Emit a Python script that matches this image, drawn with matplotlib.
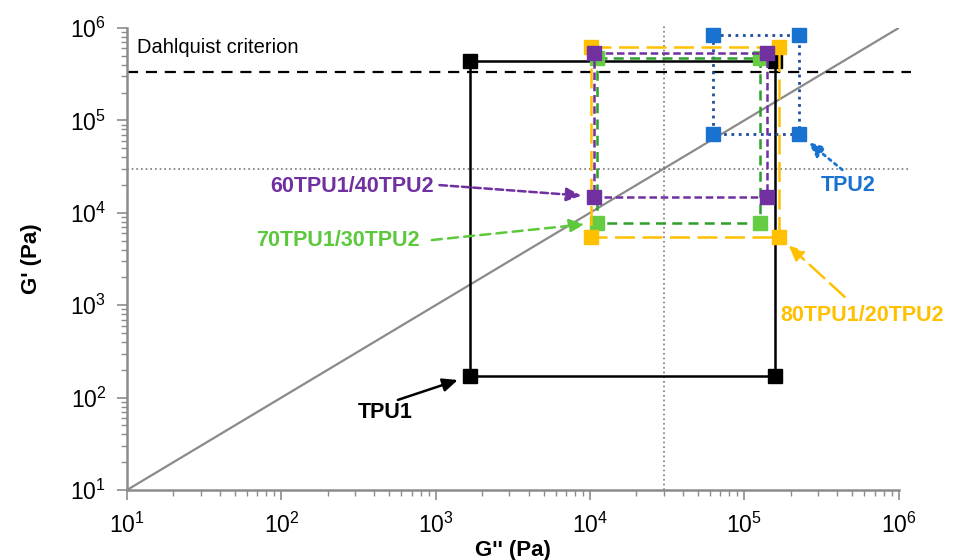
import matplotlib
matplotlib.use("Agg")
import matplotlib.pyplot as plt
import numpy as np

# viscoelastic window corners: G'' low/high, G' low/high (Pa)
samples = ["TPU1", "TPU2", "70TPU1/30TPU2", "80TPU1/20TPU2", "60TPU1/40TPU2"]
gpp_low = [1.66e3, 6.24e4, 1.11e4, 1.02e4, 1.06e4]
gpp_high = [1.57e5, 2.25e5, 1.26e5, 1.69e5, 1.40e5]
gp_low = [171, 7.1e4, 7.76e3, 5.47e3, 1.50e4]
gp_high = [4.4e5, 8.4e5, 4.73e5, 6.3e5, 5.36e5]

DAHLQUIST = 3.3e5
CROSS = 3.0e4
DIAG = [10, 1e6]

line_col = ["#000000", "#1f4e9a", "#2ca02c", "#ffc000", "#7030a0"]
mark_col = ["#000000", "#1a72d0", "#66cc44", "#ffc000", "#7030a0"]
styles = ["-", ":", (0, (4, 2.5)), (0, (8, 3)), (0, (3, 1.5))]
label_col = ["#000000", "#1a72d0", "#5cc93d", "#ffc000", "#7030a0"]
AXIS = "#8c8c8c"

plt.rcParams.update({
    "font.family": ["Liberation Sans", "DejaVu Sans"],
})

fig = plt.figure(figsize=(9.55, 5.6), dpi=100)
ax = fig.add_axes([0.133, 0.125, 0.808, 0.825])
ax.set_xscale("log")
ax.set_yscale("log")
ax.set_xlim(10, 1e6)
ax.set_ylim(10, 1e6)

ax.plot(DIAG, DIAG, color="#8a8a8a", lw=1.6, zorder=1)
ax.plot([10, 1.2e6], [DAHLQUIST, DAHLQUIST], color="black", lw=1.6,
        ls=(0, (5, 3.5)), clip_on=False, zorder=1)
ax.plot([10, 1.2e6], [CROSS, CROSS], color="#7a7a7a", lw=1.2,
        ls=(0, (1, 1.8)), clip_on=False, zorder=1)
ax.plot([CROSS, CROSS], [10, 1.1e6], color="#7a7a7a", lw=1.2,
        ls=(0, (1, 1.8)), clip_on=False, zorder=1)

for i in range(len(samples)):
    xs = [gpp_low[i], gpp_high[i], gpp_high[i], gpp_low[i], gpp_low[i]]
    ys = [gp_high[i], gp_high[i], gp_low[i], gp_low[i], gp_high[i]]
    lw = 1.8 if i != 1 else 2.0
    ax.plot(xs, ys, color=line_col[i], lw=lw, ls=styles[i], zorder=2 + i)
    ax.plot(xs[:4], ys[:4], ls="none", marker="s", ms=10.5,
            color=mark_col[i], mec=mark_col[i], zorder=2.5 + i,
            clip_on=False)

ax.text(0.013, 0.957, "Dahlquist criterion", transform=ax.transAxes,
        fontsize=14.5, va="center", ha="left")

# labels with arrows: (sample index, text pos, arrow start, corner, ha)
notes = [
    (4, (0.398, 0.656), (0.405, 0.660), "low", "right"),
    (2, (0.380, 0.541), (0.395, 0.541), "low", "right"),
    (0, (0.334, 0.167), (0.351, 0.195), "low", "center"),
    (1, (0.934, 0.660), (0.927, 0.693), "high", "center"),
    (3, (0.953, 0.377), (0.930, 0.418), "high", "center"),
]
for i, tpos, apos, corner, ha in notes:
    ax.text(tpos[0], tpos[1], samples[i], transform=ax.transAxes,
            fontsize=15.5, fontweight="bold", color=label_col[i],
            ha=ha, va="center")
    cx = gpp_low[i] if corner == "low" else gpp_high[i]
    ax.annotate("", xy=(cx, gp_low[i]), xycoords="data",
                xytext=apos, textcoords="axes fraction",
                arrowprops=dict(arrowstyle="-|>,head_length=0.9,head_width=0.4",
                                color=label_col[i],
                                lw=1.8 if i != 1 else 2.0,
                                ls=styles[i] if i != 0 else "-",
                                shrinkA=0, shrinkB=9),
                zorder=10)

ax.spines[["top", "right"]].set_visible(False)
for s in ["left", "bottom"]:
    ax.spines[s].set_color(AXIS)
    ax.spines[s].set_linewidth(1.8)
ax.tick_params(axis="both", which="major", colors=AXIS, length=7, width=1.2,
               labelcolor="black", labelsize=16.5)
ax.tick_params(axis="both", which="minor", colors=AXIS, length=4.5, width=1)
ax.tick_params(axis="x", which="major", pad=9)
ax.tick_params(axis="y", which="major", pad=8)

ax.set_xlabel("G'' (Pa)", fontsize=16, fontweight="bold", labelpad=2)
ax.set_ylabel("G' (Pa)", fontsize=16, fontweight="bold", labelpad=20)

fig.savefig("out.png", dpi=100)
